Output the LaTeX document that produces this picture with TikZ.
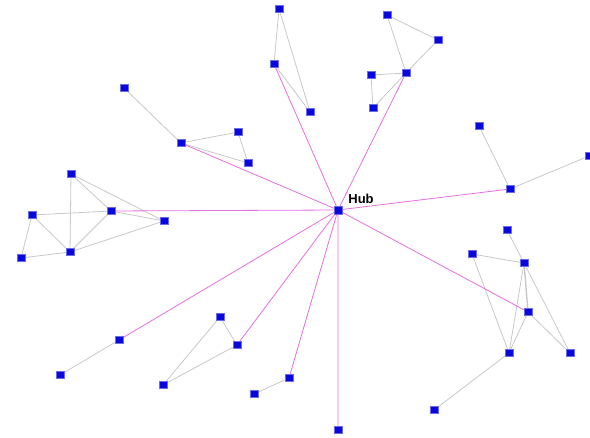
\documentclass[tikz,border=0pt]{standalone}
\usepackage{fontspec}
\setmainfont{Liberation Sans}
\usetikzlibrary{backgrounds}
\definecolor{nodeblue}{RGB}{8,8,220}
\definecolor{edgegray}{RGB}{200,200,200}
\definecolor{hubpink}{RGB}{230,110,225}
\begin{document}
\begin{tikzpicture}[x=1pt,y=-1pt,
  vtx/.style={rectangle,fill=nodeblue,draw=nodeblue!60!white,line width=0.4pt,minimum width=8pt,minimum height=7pt,inner sep=0pt},
  gedge/.style={draw=edgegray,line width=0.8pt},
  pedge/.style={draw=hubpink,line width=0.8pt}]
\useasboundingbox (0,0) rectangle (590,438);
% hub
\node[vtx,minimum height=8pt] (hub) at (338,210) {};
\node[font=\bfseries\fontsize{13}{15}\selectfont,inner sep=0pt] (hublbl) at (361,199) {Hub};
% A
\node[vtx] (a1) at (279,9) {};
\node[vtx] (a2) at (274,64) {};
\node[vtx] (a3) at (310,112) {};
% B
\node[vtx] (b1) at (387,15) {};
\node[vtx] (b2) at (438,40) {};
\node[vtx] (b3) at (406,73) {};
\node[vtx] (b4) at (371,75) {};
\node[vtx] (b5) at (373,108) {};
% C
\node[vtx] (c1) at (124,88) {};
\node[vtx] (c2) at (181,143) {};
\node[vtx] (c3) at (238,132) {};
\node[vtx] (c4) at (248,163) {};
% D
\node[vtx] (d1) at (71,174) {};
\node[vtx] (d2) at (32,215) {};
\node[vtx] (d3) at (111,211) {};
\node[vtx] (d4) at (164,221) {};
\node[vtx] (d5) at (70,252) {};
\node[vtx] (d6) at (21,258) {};
% E
\node[vtx] (e1) at (479,126) {};
\node[vtx] (e2) at (510,189) {};
\node[vtx] (e3) at (589,156) {};
% F
\node[vtx] (f1) at (507,230) {};
\node[vtx] (f2) at (472,254) {};
\node[vtx] (f3) at (524,263) {};
\node[vtx] (f4) at (528,312) {};
\node[vtx] (f5) at (509,353) {};
\node[vtx] (f6) at (570,353) {};
\node[vtx] (f7) at (434,410) {};
% G, H, I, J
\node[vtx] (g1) at (119,340) {};
\node[vtx] (g2) at (60,375) {};
\node[vtx] (h1) at (220,317) {};
\node[vtx] (h2) at (237,345) {};
\node[vtx] (h3) at (163,385) {};
\node[vtx] (i1) at (289,378) {};
\node[vtx] (i2) at (254,394) {};
\node[vtx] (j1) at (338,430) {};
\begin{pgfonlayer}{background}
\path[gedge] (a1)--(a2) (a1)--(a3) (a2)--(a3);
\path[gedge] (b1)--(b2) (b2)--(b3) (b1)--(b3) (b3)--(b4) (b4)--(b5) (b5)--(b3);
\path[gedge] (c1)--(c2) (c2)--(c3) (c3)--(c4) (c2)--(c4);
\path[gedge] (d1)--(d5) (d1)--(d3) (d1)--(d4) (d2)--(d3) (d2)--(d5) (d2)--(d6) (d6)--(d5) (d5)--(d3) (d5)--(d4) (d3)--(d4);
\path[gedge] (e1)--(e2) (e2)--(e3);
\path[gedge] (f1)--(f3) (f2)--(f3) (f2)--(f5) (f3)--(f5) (f3)--(f6) (f4)--(f5) (f4)--(f6) (f5)--(f7);
\path[gedge,line width=1.4pt] (f3)--(f4);
\path[gedge] (g1)--(g2) (h1)--(h2) (h1)--(h3) (h2)--(h3) (i1)--(i2);
\path[pedge] (hub)--(a2) (hub)--(b3) (hub)--(c2) (hub)--(d3) (hub)--(e2) (hub)--(f4) (hub)--(g1) (hub)--(h2) (hub)--(i1) (hub)--(j1);
\end{pgfonlayer}
\end{tikzpicture}
\end{document}
